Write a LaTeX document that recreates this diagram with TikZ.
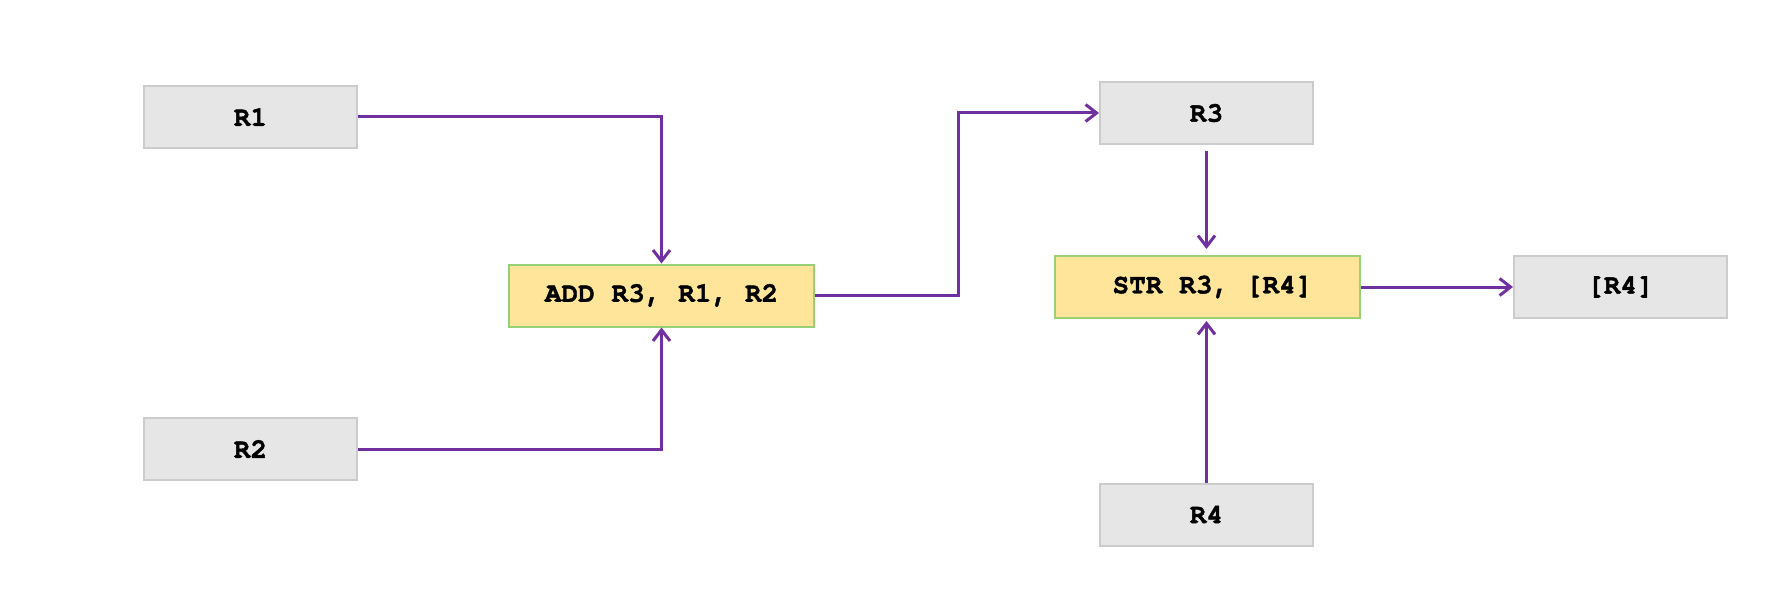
\documentclass[tikz,border=0pt]{standalone}
\usepackage{fontspec}
\setmonofont[BoldFeatures={FakeBold=1.5}]{TeX Gyre Cursor}
\usetikzlibrary{arrows.meta}
\definecolor{edgec}{HTML}{7030A0}
\definecolor{grayfill}{HTML}{E6E6E6}
\definecolor{graydraw}{HTML}{CCCCCC}
\definecolor{yfill}{HTML}{FFE599}
\definecolor{ydraw}{HTML}{97D077}
\begin{document}
\begin{tikzpicture}[x=0.5pt,y=-0.5pt,
 reg/.style={draw=graydraw, fill=grayfill, line width=1pt, minimum width=106.5pt, minimum height=31pt, inner sep=0pt, font=\fontsize{13.9}{16}\selectfont\ttfamily\bfseries},
 ins/.style={reg, draw=ydraw, fill=yfill, minimum width=152.5pt},
 conn/.style={draw=edgec, line width=1.5pt, -{Straight Barb[length=5.5pt,width=8.5pt,line width=1.5pt]}}]
\useasboundingbox (0,0) rectangle (1777,610);
\node[reg] (r1) at (250.5,117) {R1};
\node[reg] (r2) at (250.5,449) {R2};
\node[ins] (add) at (661.5,295.5) {ADD R3, R1, R2};
\node[reg] (r3) at (1206.5,113) {R3};
\node[ins] (str) at (1207.5,287) {\hspace*{5pt}STR R3, [R4]};
\node[reg] (mr4) at (1620.5,287) {[R4]};
\node[reg] (r4) at (1206.5,514.5) {R4};
\coordinate (bend) at (958,200);
\draw[conn] (r1.east) -| (add.north);
\draw[conn] (r2.east) -| (add.south);
\draw[conn] (add.east) -- (add.east -| bend) -- (r3.west -| bend) -- (r3.west);
\draw[conn, shorten <=3pt, shorten >=3pt] (r3.south) -- (r3.south |- str.north);
\draw[conn, shorten >=1pt] (r4.north) -- (r4.north |- str.south);
\draw[conn] (str.east) -- (mr4.west);
\end{tikzpicture}
\end{document}
